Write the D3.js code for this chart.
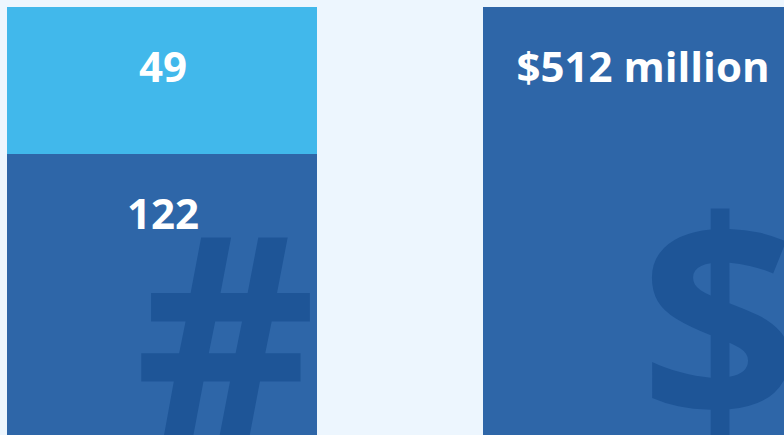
<!DOCTYPE html>
<html><head><meta charset="utf-8">
<script src="https://cdn.jsdelivr.net/npm/d3@7"></script>
<style>html,body{margin:0;padding:0;background:#EDF6FE;overflow:hidden}</style>
</head><body>
<script>
const categories = ["Incidents", "Cost"];
const countSeries = ["Other", "Highlighted"];
const countValues = [122, 49];
const costValues = [512];
const costLabels = ["$512 million"];
const glyphs = ["#", "$"];

const W = 784, H = 435;
const svg = d3.select("body").append("svg").attr("width", W).attr("height", H);
svg.append("rect").attr("width", W).attr("height", H).attr("fill", "#EDF6FE");

const x = d3.scaleOrdinal().domain(categories).range([7, 483]);
const widths = d3.scaleOrdinal().domain(categories).range([310, 320]);

const yCount = d3.scaleLinear().domain([0, d3.sum(countValues)]).range([520, 7]);
const yCost = d3.scaleLinear().domain([0, costValues[0]]).range([520, 7]);

const stack = d3.stack().keys(countSeries)([Object.fromEntries(countSeries.map((k, i) => [k, countValues[i]]))]);
const colors = d3.scaleOrdinal().domain(countSeries).range(["#2E66A8", "#41B8EB"]);
const font = "'Open Sans', sans-serif";

const c0 = categories[0];
const gL = svg.append("g");
stack.forEach((s) => {
  const d = s[0];
  gL.append("rect").attr("x", x(c0)).attr("width", widths(c0))
    .attr("y", yCount(d[1])).attr("height", yCount(d[0]) - yCount(d[1]))
    .attr("fill", colors(s.key));
});
gL.append("text").attr("x", x(c0) + widths(c0) - 1).attr("y", 437)
  .attr("text-anchor", "end").attr("font-family", font).attr("font-weight", 700)
  .attr("font-size", 280).attr("fill", "#1E5597").text(glyphs[0]);
stack.forEach((s) => {
  const d = s[0];
  gL.append("text").attr("x", x(c0) + widths(c0) / 2 + 1).attr("y", yCount(d[1]) + 75)
    .attr("text-anchor", "middle").attr("font-family", font).attr("font-weight", 700)
    .attr("font-size", 42).attr("fill", "#fff").text(d[1] - d[0]);
});

const c1 = categories[1];
const gR = svg.append("g");
gR.append("rect").attr("x", x(c1)).attr("width", widths(c1))
  .attr("y", yCost(costValues[0])).attr("height", yCost(0) - yCost(costValues[0]))
  .attr("fill", "#2E66A8");
gR.append("text").attr("x", x(c1) + widths(c1) - 3).attr("y", 421)
  .attr("text-anchor", "end").attr("font-family", font).attr("font-weight", 700)
  .attr("font-size", 280).attr("fill", "#1E5597").text(glyphs[1]);
gR.append("text").attr("x", x(c1) + widths(c1) / 2).attr("y", yCost(costValues[0]) + 75)
  .attr("text-anchor", "middle").attr("font-family", font).attr("font-weight", 700)
  .attr("font-size", 42).attr("fill", "#fff").text(costLabels[0]);
</script>
</body></html>
